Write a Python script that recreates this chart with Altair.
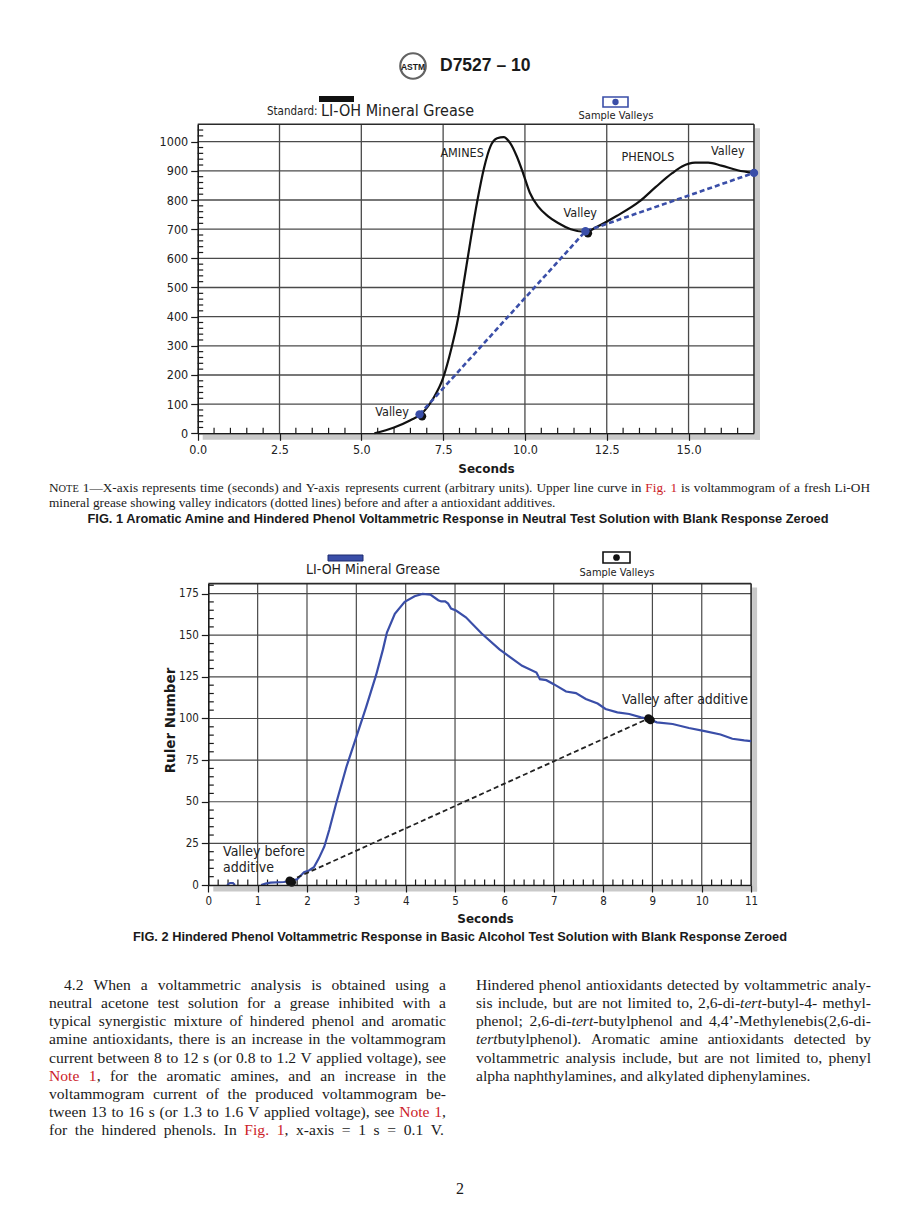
import altair as alt
import pandas as pd

# ---------------------------------------------------------------- data
# FIG. 1  standard curve (seconds -> current, arbitrary units)
fig1_sec = [5.4, 6.0, 6.5, 6.85, 7.2, 7.5, 7.75, 7.95, 8.15, 8.35, 8.55, 8.75, 8.95, 9.15, 9.35,
            9.55, 9.75, 9.95, 10.15, 10.4, 10.7, 11.0, 11.4, 11.85, 12.2, 12.8, 13.5, 14.0, 14.5,
            14.8, 15.2, 15.6, 16.0, 16.5, 17.0]
fig1_cur = [0, 20, 45, 68, 120, 190, 290, 390, 530, 670, 800, 910, 985, 1012, 1016,
            995, 950, 890, 825, 778, 745, 722, 700, 691, 708, 745, 795, 845, 892,
            915, 928, 928, 918, 902, 892]
fig1_valley_sec = [6.78, 11.85, 17.0]
fig1_valley_cur = [65, 693, 893]
fig1_xticks = [0, 2.5, 5, 7.5, 10, 12.5, 15]
fig1_yticks = [0, 100, 200, 300, 400, 500, 600, 700, 800, 900, 1000]
fig1_labels = ["AMINES", "PHENOLS", "Valley", "Valley", "Valley"]
fig1_label_sec = [8.08, 13.76, 16.2, 11.69, 5.94]
fig1_label_cur = [961, 948, 968, 757, 73]

# FIG. 2  LI-OH mineral grease (seconds -> ruler number)
fig2_sec = [1.07, 1.16, 1.26, 1.53, 1.65, 1.8, 1.94, 2.04, 2.14, 2.24, 2.35, 2.45, 2.6, 2.8,
            3.0, 3.2, 3.4, 3.54, 3.62, 3.78, 3.98, 4.18, 4.34, 4.5, 4.66, 4.72, 4.8, 4.86,
            4.92, 5.02, 5.22, 5.54, 5.9, 6.04, 6.36, 6.65, 6.72, 6.85, 7.0, 7.25, 7.45, 7.65,
            7.89, 8.05, 8.29, 8.53, 8.77, 8.92, 9.09, 9.41, 9.74, 10.06, 10.38, 10.62, 10.86, 11.0]
fig2_val = [0, 0.8, 1.4, 1.8, 2.4, 3.4, 7.7, 8.7, 10.7, 16, 23, 33, 50, 71,
            89, 107, 126, 141.5, 151.6, 162.8, 170, 173.4, 174.8, 174.4, 171, 170.3, 170.3, 169,
            166, 164.8, 160.8, 151, 141.5, 138.5, 131.6, 127.6, 123.6, 123, 120.6, 116.2, 115.2, 111.7,
            109, 105.7, 103.7, 102.7, 100.7, 99.7, 97.7, 96.7, 94.3, 92.4, 90.4, 87.8, 86.8, 86.4]
fig2_blip_sec = [0.38, 0.44, 0.5, 0.54]
fig2_blip_val = [0, 1.2, 1.2, 0]
fig2_valley_sec = [1.65, 8.92]
fig2_valley_val = [2.5, 100]
fig2_xticks = [0, 1, 2, 3, 4, 5, 6, 7, 8, 9, 10, 11]
fig2_yticks = [0, 25, 50, 75, 100, 125, 150, 175]

# ---------------------------------------------------------------- page text
header_text = "D7527 \u2013 10"
note_lines = [
    [("N", "n"), ("OTE", "c"),
     (" 1\u2014X-axis represents time (seconds) and Y-axis represents current (arbitrary units). Upper line curve in ", "n"),
     ("Fig. 1", "r"), (" is voltammogram of a fresh Li-OH", "n")],
    [("mineral grease showing valley indicators (dotted lines) before and after a antioxidant additives.", "n")],
]
caption1 = "FIG. 1 Aromatic Amine and Hindered Phenol Voltammetric Response in Neutral Test Solution with Blank Response Zeroed"
caption2 = "FIG. 2 Hindered Phenol Voltammetric Response in Basic Alcohol Test Solution with Blank Response Zeroed"
left_col = [
    [("4.2 When a voltammetric analysis is obtained using a", "n")],
    [("neutral acetone test solution for a grease inhibited with a", "n")],
    [("typical synergistic mixture of hindered phenol and aromatic", "n")],
    [("amine antioxidants, there is an increase in the voltammogram", "n")],
    [("current between 8 to 12 s (or 0.8 to 1.2 V applied voltage), see", "n")],
    [("Note 1", "r"), (", for the aromatic amines, and an increase in the", "n")],
    [("voltammogram current of the produced voltammogram be-", "n")],
    [("tween 13 to 16 s (or 1.3 to 1.6 V applied voltage), see ", "n"), ("Note 1", "r"), (",", "n")],
    [("for the hindered phenols. In ", "n"), ("Fig. 1", "r"), (", x-axis = 1 s = 0.1 V.", "n")],
]
right_col = [
    [("Hindered phenol antioxidants detected by voltammetric analy-", "n")],
    [("sis include, but are not limited to, 2,6-di-", "n"), ("tert", "i"), ("-butyl-4- methyl-", "n")],
    [("phenol; 2,6-di-", "n"), ("tert", "i"), ("-butylphenol and 4,4\u2019-Methylenebis(2,6-di-", "n")],
    [("tert", "i"), ("butylphenol). Aromatic amine antioxidants detected by", "n")],
    [("voltammetric analysis include, but are not limited to, phenyl", "n")],
    [("alpha naphthylamines, and alkylated diphenylamines.", "n")],
]
page_number = "2"

# ---------------------------------------------------------------- styling / layout
SANS = "DejaVu Sans Condensed, DejaVu Sans, sans-serif"
SANSB = "DejaVu Sans"
SERIF = "Liberation Serif, Times New Roman, serif"
HELV = "Liberation Sans, Arial, sans-serif"
INK = "#1a1a1a"
RED = "#cc2229"
BLUE = "#3a4ea8"
GRID = "#4a4a4a"
SHADOW = "#c9c9c9"

W, H = 904, 1216
OX, OY = 8, 8


def cx(x):
    return x - OX


def cy(y):
    return y - OY


X1 = alt.Scale(domain=[0, 17], range=[cx(197.7), cx(754.0)], nice=False, zero=False)
Y1 = alt.Scale(domain=[0, 1060], range=[cy(433.3), cy(124.2)], nice=False, zero=False)
X2 = alt.Scale(domain=[0, 11], range=[cx(208.3), cx(751.1)], nice=False, zero=False)
Y2 = alt.Scale(domain=[0, 181], range=[cy(885.0), cy(583.6)], nice=False, zero=False)

one = pd.DataFrame({"k": [0]})


def xaxis(values, fmt, ybase, title_cx, title_cy, labsize):
    return alt.Axis(orient="bottom", offset=cy(ybase) - H, values=values, format=fmt, grid=False,
                    domainColor=INK, domainWidth=1.6, tickColor=INK, tickWidth=1.2, tickSize=7,
                    labelFont=SANS, labelFontSize=labsize, labelColor="#222", labelPadding=3,
                    labelFlush=False, labelOverlap=False,
                    title="Seconds", titleFont=SANSB, titleFontWeight="bold", titleFontSize=12,
                    titleColor=INK, titleX=cx(title_cx), titleY=title_cy - ybase,
                    titleBaseline="middle", titleAlign="center", zindex=3)


def yaxis(values, xbase, labsize, title=None, tx=0, ty=0):
    kw = dict(orient="left", offset=-cx(xbase), values=values, format="d", grid=False,
              domainColor=INK, domainWidth=1.6, tickColor=INK, tickWidth=1.2, tickSize=7,
              labelFont=SANS, labelFontSize=labsize, labelColor="#222", labelPadding=3,
              labelOverlap=False, zindex=3)
    if title:
        kw.update(title=title, titleFont=SANSB, titleFontWeight="bold", titleFontSize=13.5,
                  titleColor=INK, titleX=tx - xbase, titleY=cy(ty), titleAngle=270,
                  titleBaseline="middle", titleAlign="center")
    else:
        kw.update(title=None)
    return alt.Axis(**kw)


def panel(X, Y, xvals, yvals, xmax, ymax, xminor, yminor, ax_x, ax_y, gridw):
    out = []
    gv = pd.DataFrame({"t": [v for v in xvals if 0 < v < xmax], "lo": 0, "hi": ymax})
    out.append(alt.Chart(gv).mark_rule(color=GRID, strokeWidth=gridw).encode(
        x=alt.X("t:Q", scale=X, axis=ax_x), y=alt.Y("lo:Q", scale=Y, axis=None), y2="hi:Q"))
    gh = pd.DataFrame({"v": [v for v in yvals if 0 < v < ymax], "lo": 0, "hi": xmax})
    out.append(alt.Chart(gh).mark_rule(color=GRID, strokeWidth=gridw).encode(
        y=alt.Y("v:Q", scale=Y, axis=ax_y), x=alt.X("lo:Q", scale=X, axis=None), x2="hi:Q"))
    # frame (top and right)
    fr = pd.DataFrame({"a": [0, xmax], "b": [xmax, xmax], "c": [ymax, 0], "d": [ymax, ymax]})
    out.append(alt.Chart(fr).mark_rule(color="#2a2a2a", strokeWidth=1.6).encode(
        x=alt.X("a:Q", scale=X, axis=None), x2="b:Q", y=alt.Y("c:Q", scale=Y, axis=None), y2="d:Q"))
    # drop shadow
    sb = pd.DataFrame({"x0": [0], "x1": [xmax], "y0": [0]})
    out.append(alt.Chart(sb).mark_rect(color=SHADOW, xOffset=5, x2Offset=6, yOffset=1.5, y2Offset=6.5).encode(
        x=alt.X("x0:Q", scale=X, axis=None), x2="x1:Q", y=alt.Y("y0:Q", scale=Y, axis=None), y2="y0:Q"))
    sr = pd.DataFrame({"x0": [xmax], "y0": [ymax], "y1": [0]})
    out.append(alt.Chart(sr).mark_rect(color=SHADOW, xOffset=1, x2Offset=6, yOffset=4, y2Offset=6.5).encode(
        x=alt.X("x0:Q", scale=X, axis=None), x2="x0:Q", y=alt.Y("y0:Q", scale=Y, axis=None), y2="y1:Q"))
    # minor ticks
    mx = pd.DataFrame({"t": xminor, "z": 0})
    out.append(alt.Chart(mx).mark_rule(color=INK, strokeWidth=1.2, y2Offset=-5.5).encode(
        x=alt.X("t:Q", scale=X, axis=None), y=alt.Y("z:Q", scale=Y, axis=None), y2="z:Q"))
    my = pd.DataFrame({"v": yminor, "z": 0})
    out.append(alt.Chart(my).mark_rule(color=INK, strokeWidth=1.2, x2Offset=5.5).encode(
        y=alt.Y("v:Q", scale=Y, axis=None), x=alt.X("z:Q", scale=X, axis=None), x2="z:Q"))
    return out


layers = []

# ---------------- FIG. 1 panel
x1_minor = [i * 0.5 for i in range(1, 34) if (i * 0.5) % 2.5 != 0]
y1_minor = [i * 20 for i in range(1, 53) if (i * 20) % 100 != 0]
layers += panel(X1, Y1, fig1_xticks, fig1_yticks, 17, 1060, x1_minor, y1_minor,
                xaxis(fig1_xticks, ".1f", 433.3, 486, 468, 12.5),
                yaxis(fig1_yticks, 197.7, 12.5), 1.3)

c1 = pd.DataFrame({"t": fig1_sec, "v": fig1_cur})
layers.append(alt.Chart(c1).mark_line(color="#111", strokeWidth=2.2, interpolate="monotone").encode(
    x=alt.X("t:Q", scale=X1, axis=None), y=alt.Y("v:Q", scale=Y1, axis=None)))
v1 = pd.DataFrame({"t": fig1_valley_sec, "v": fig1_valley_cur})
layers.append(alt.Chart(v1).mark_line(color=BLUE, strokeWidth=2.6, strokeDash=[5, 3]).encode(
    x=alt.X("t:Q", scale=X1, axis=None), y=alt.Y("v:Q", scale=Y1, axis=None)))
layers.append(alt.Chart(v1.iloc[:2]).mark_point(filled=True, color="#111", size=70, opacity=1,
                                               xOffset=2.5, yOffset=2).encode(
    x=alt.X("t:Q", scale=X1, axis=None), y=alt.Y("v:Q", scale=Y1, axis=None)))
layers.append(alt.Chart(v1).mark_point(filled=True, color=BLUE, size=70, opacity=1).encode(
    x=alt.X("t:Q", scale=X1, axis=None), y=alt.Y("v:Q", scale=Y1, axis=None)))
a1 = pd.DataFrame({"t": fig1_label_sec, "v": fig1_label_cur, "label": fig1_labels})
layers.append(alt.Chart(a1).mark_text(font=SANS, fontSize=12.5, color="#222", baseline="middle").encode(
    x=alt.X("t:Q", scale=X1, axis=None), y=alt.Y("v:Q", scale=Y1, axis=None), text="label:N"))

# ---------------- FIG. 2 panel
x2_minor = [round(i * 0.2, 1) for i in range(1, 55) if i % 5 != 0]
y2_minor = [i * 5 for i in range(1, 37) if (i * 5) % 25 != 0]
layers += panel(X2, Y2, fig2_xticks, fig2_yticks, 11, 181, x2_minor, y2_minor,
                xaxis(fig2_xticks, "d", 885.0, 485, 918, 11.5),
                yaxis(fig2_yticks, 208.3, 11.5, "Ruler Number", 170, 720), 1.2)

c2 = pd.DataFrame({"t": fig2_sec, "v": fig2_val})
layers.append(alt.Chart(c2).mark_line(color=BLUE, strokeWidth=2.2).encode(
    x=alt.X("t:Q", scale=X2, axis=None), y=alt.Y("v:Q", scale=Y2, axis=None)))
b2 = pd.DataFrame({"t": fig2_blip_sec, "v": fig2_blip_val})
layers.append(alt.Chart(b2).mark_line(color=BLUE, strokeWidth=2.0).encode(
    x=alt.X("t:Q", scale=X2, axis=None), y=alt.Y("v:Q", scale=Y2, axis=None)))
v2 = pd.DataFrame({"t": fig2_valley_sec, "v": fig2_valley_val})
layers.append(alt.Chart(v2).mark_line(color="#222", strokeWidth=1.8, strokeDash=[5, 3]).encode(
    x=alt.X("t:Q", scale=X2, axis=None), y=alt.Y("v:Q", scale=Y2, axis=None)))
layers.append(alt.Chart(v2).mark_point(filled=True, color="#111", size=75, opacity=1, xOffset=2, yOffset=1.5).encode(
    x=alt.X("t:Q", scale=X2, axis=None), y=alt.Y("v:Q", scale=Y2, axis=None)))
layers.append(alt.Chart(v2).mark_point(filled=True, color="#111", size=75, opacity=1).encode(
    x=alt.X("t:Q", scale=X2, axis=None), y=alt.Y("v:Q", scale=Y2, axis=None)))
a2 = pd.DataFrame({"t": [9.66], "v": [111.1], "label": ["Valley after additive"]})
layers.append(alt.Chart(a2).mark_text(font=SANS, fontSize=14, color="#222", baseline="middle").encode(
    x=alt.X("t:Q", scale=X2, axis=None), y=alt.Y("v:Q", scale=Y2, axis=None), text="label:N"))
a2b = pd.DataFrame({"t": [0.3, 0.3], "v": [20.0, 10.0], "label": ["Valley before", "additive"]})
layers.append(alt.Chart(a2b).mark_text(font=SANS, fontSize=14, color="#222", baseline="middle", align="left").encode(
    x=alt.X("t:Q", scale=X2, axis=None), y=alt.Y("v:Q", scale=Y2, axis=None), text="label:N"))


# ---------------- legends (page furniture)
def vrect(x0, x1, y0, y1, **mk):
    return alt.Chart(one).mark_rect(**mk).encode(
        x=alt.value(cx(x0)), x2=alt.value(cx(x1)), y=alt.value(cy(y0)), y2=alt.value(cy(y1)))


def vdot(x, y, **mk):
    return alt.Chart(one).mark_point(filled=True, opacity=1, **mk).encode(x=alt.value(cx(x)), y=alt.value(cy(y)))


layers.append(vrect(319, 354, 96, 102, color="#111"))
layers.append(vrect(603, 628, 97, 107, fill="white", stroke=BLUE, strokeWidth=1.6))
layers.append(vdot(615.5, 102, color=BLUE, size=40))
layers.append(vrect(328, 363, 555, 561, fill=BLUE, stroke="#1d2a6e", strokeWidth=1))
layers.append(vrect(603, 630, 552, 563, fill="white", stroke="#111", strokeWidth=1.6))
layers.append(vdot(616.5, 557.5, color="#111", size=45))

# ASTM logo (approximation)
layers.append(alt.Chart(one).mark_point(shape="circle", filled=False, color="#222", size=650, strokeWidth=2.2).encode(
    x=alt.value(cx(413)), y=alt.value(cy(66))))


# ---------------- text helpers
TIMES = {" ": 250, "!": 333, "'": 180, "(": 333, ")": 333, "+": 564, ",": 250, "-": 333, ".": 250,
         "/": 278, ":": 278, ";": 278, "=": 564, "?": 444, "\u2014": 1000, "\u2013": 500, "\u2019": 333,
         "A": 722, "B": 667, "C": 667, "D": 722, "E": 611, "F": 556, "G": 722, "H": 722, "I": 333,
         "J": 389, "K": 722, "L": 611, "M": 889, "N": 722, "O": 722, "P": 556, "Q": 722, "R": 667,
         "S": 556, "T": 611, "U": 722, "V": 722, "W": 944, "X": 722, "Y": 722, "Z": 611,
         "a": 444, "b": 500, "c": 444, "d": 500, "e": 444, "f": 333, "g": 500, "h": 500, "i": 278,
         "j": 278, "k": 500, "l": 278, "m": 778, "n": 500, "o": 500, "p": 500, "q": 500, "r": 333,
         "s": 389, "t": 278, "u": 500, "v": 500, "w": 722, "x": 500, "y": 500, "z": 444}
TIMES_IT = {"a": 500, "e": 444, "r": 389, "t": 278}


def tw(s, italic=False):
    w = 0
    for ch in s:
        if italic and ch in TIMES_IT:
            w += TIMES_IT[ch]
        else:
            w += TIMES.get(ch, 500)
    return w / 1000.0


def layout_line(segs, left, right, ymid, size, justify, rows):
    tokens = [[]]
    for text, st in segs:
        parts = text.split(" ")
        for k, p in enumerate(parts):
            if k > 0:
                tokens.append([])
            if p:
                tokens[-1].append((p, st))
    tokens = [t for t in tokens if t]

    def segw(p, st, sz):
        return tw(p, st == "i") * sz * (0.78 if st == "c" else 1.0)

    ngap = max(len(tokens) - 1, 1)
    em_words = sum(segw(p, st, 1.0) for tok in tokens for p, st in tok)
    # shrink the font of a line that would otherwise not fit its column
    if justify and em_words * size + ngap * 0.2 * size > right - left:
        size = (right - left) / (em_words + ngap * 0.2)
    widths = [sum(segw(p, st, size) for p, st in tok) for tok in tokens]
    gap = 0.25 * size
    if justify and len(tokens) > 1:
        gap = (right - left - sum(widths)) / (len(tokens) - 1)
    x = left
    base = ymid + 0.33 * size
    for tok, wt in zip(tokens, widths):
        xx = x
        for p, st in tok:
            rows.append(dict(x=cx(xx), y=cy(base), text=p, color=RED if st == "r" else INK,
                             size=size * (0.78 if st == "c" else 1.0), italic=(st == "i")))
            xx += segw(p, st, size)
        x += wt + gap


rows = []
layout_line(note_lines[0], 49, 870, 488, 13.3, True, rows)
layout_line(note_lines[1], 49, 870, 503, 13.3, False, rows)
for i, segs in enumerate(left_col):
    layout_line(segs, 64 if i == 0 else 49, 446, 985 + 18.1 * i, 15.6, True, rows)
for i, segs in enumerate(right_col):
    layout_line(segs, 476, 871, 985 + 18.1 * i, 15.6, i < len(right_col) - 1, rows)
body = pd.DataFrame(rows)


def text_layer(df, **mk):
    return alt.Chart(df).mark_text(**mk).encode(
        x=alt.X("x:Q", scale=None, axis=None), y=alt.Y("y:Q", scale=None, axis=None),
        text="text:N", color=alt.Color("color:N", scale=None), size=alt.Size("size:Q", scale=None))


layers.append(text_layer(body[~body["italic"]], font=SERIF, align="left", baseline="alphabetic"))
layers.append(text_layer(body[body["italic"]], font=SERIF, fontStyle="italic", align="left", baseline="alphabetic"))

centered = pd.DataFrame([
    dict(x=cx(460), y=cy(1189), text=page_number, color=INK, size=16),
])
layers.append(text_layer(centered, font=SERIF, align="center", baseline="middle"))

bold_c = pd.DataFrame([
    dict(x=cx(458), y=cy(519), text=caption1, color=INK, size=12.8),
    dict(x=cx(460), y=cy(937), text=caption2, color=INK, size=12.8),
])
layers.append(text_layer(bold_c, font=HELV, fontWeight="bold", align="center", baseline="middle"))
bold_l = pd.DataFrame([dict(x=cx(440), y=cy(66), text=header_text, color=INK, size=17.5)])
layers.append(text_layer(bold_l, font=HELV, fontWeight="bold", align="left", baseline="middle"))
logo = pd.DataFrame([dict(x=cx(413), y=cy(66.5), text="ASTM", color=INK, size=8.5)])
layers.append(text_layer(logo, font=HELV, fontWeight="bold", align="center", baseline="middle"))

leg_l = pd.DataFrame([
    dict(x=cx(267), y=cy(112), text="Standard:", color="#222", size=11.5),
    dict(x=cx(321), y=cy(111), text="LI-OH Mineral Grease", color="#222", size=16),
])
layers.append(text_layer(leg_l, font=SANS, align="left", baseline="middle"))
leg_c = pd.DataFrame([
    dict(x=cx(616), y=cy(116), text="Sample Valleys", color="#222", size=11),
    dict(x=cx(373), y=cy(570), text="LI-OH Mineral Grease", color="#222", size=14),
    dict(x=cx(617), y=cy(572.5), text="Sample Valleys", color="#222", size=11),
])
layers.append(text_layer(leg_c, font=SANS, align="center", baseline="middle"))

chart = alt.layer(*layers).resolve_scale(x="independent", y="independent").properties(
    width=W, height=H, autosize=alt.AutoSizeParams(type="none"), padding=0, background="white"
).configure_view(stroke=None)

chart.save("out.html", embed_options={"renderer": "svg", "actions": False})
